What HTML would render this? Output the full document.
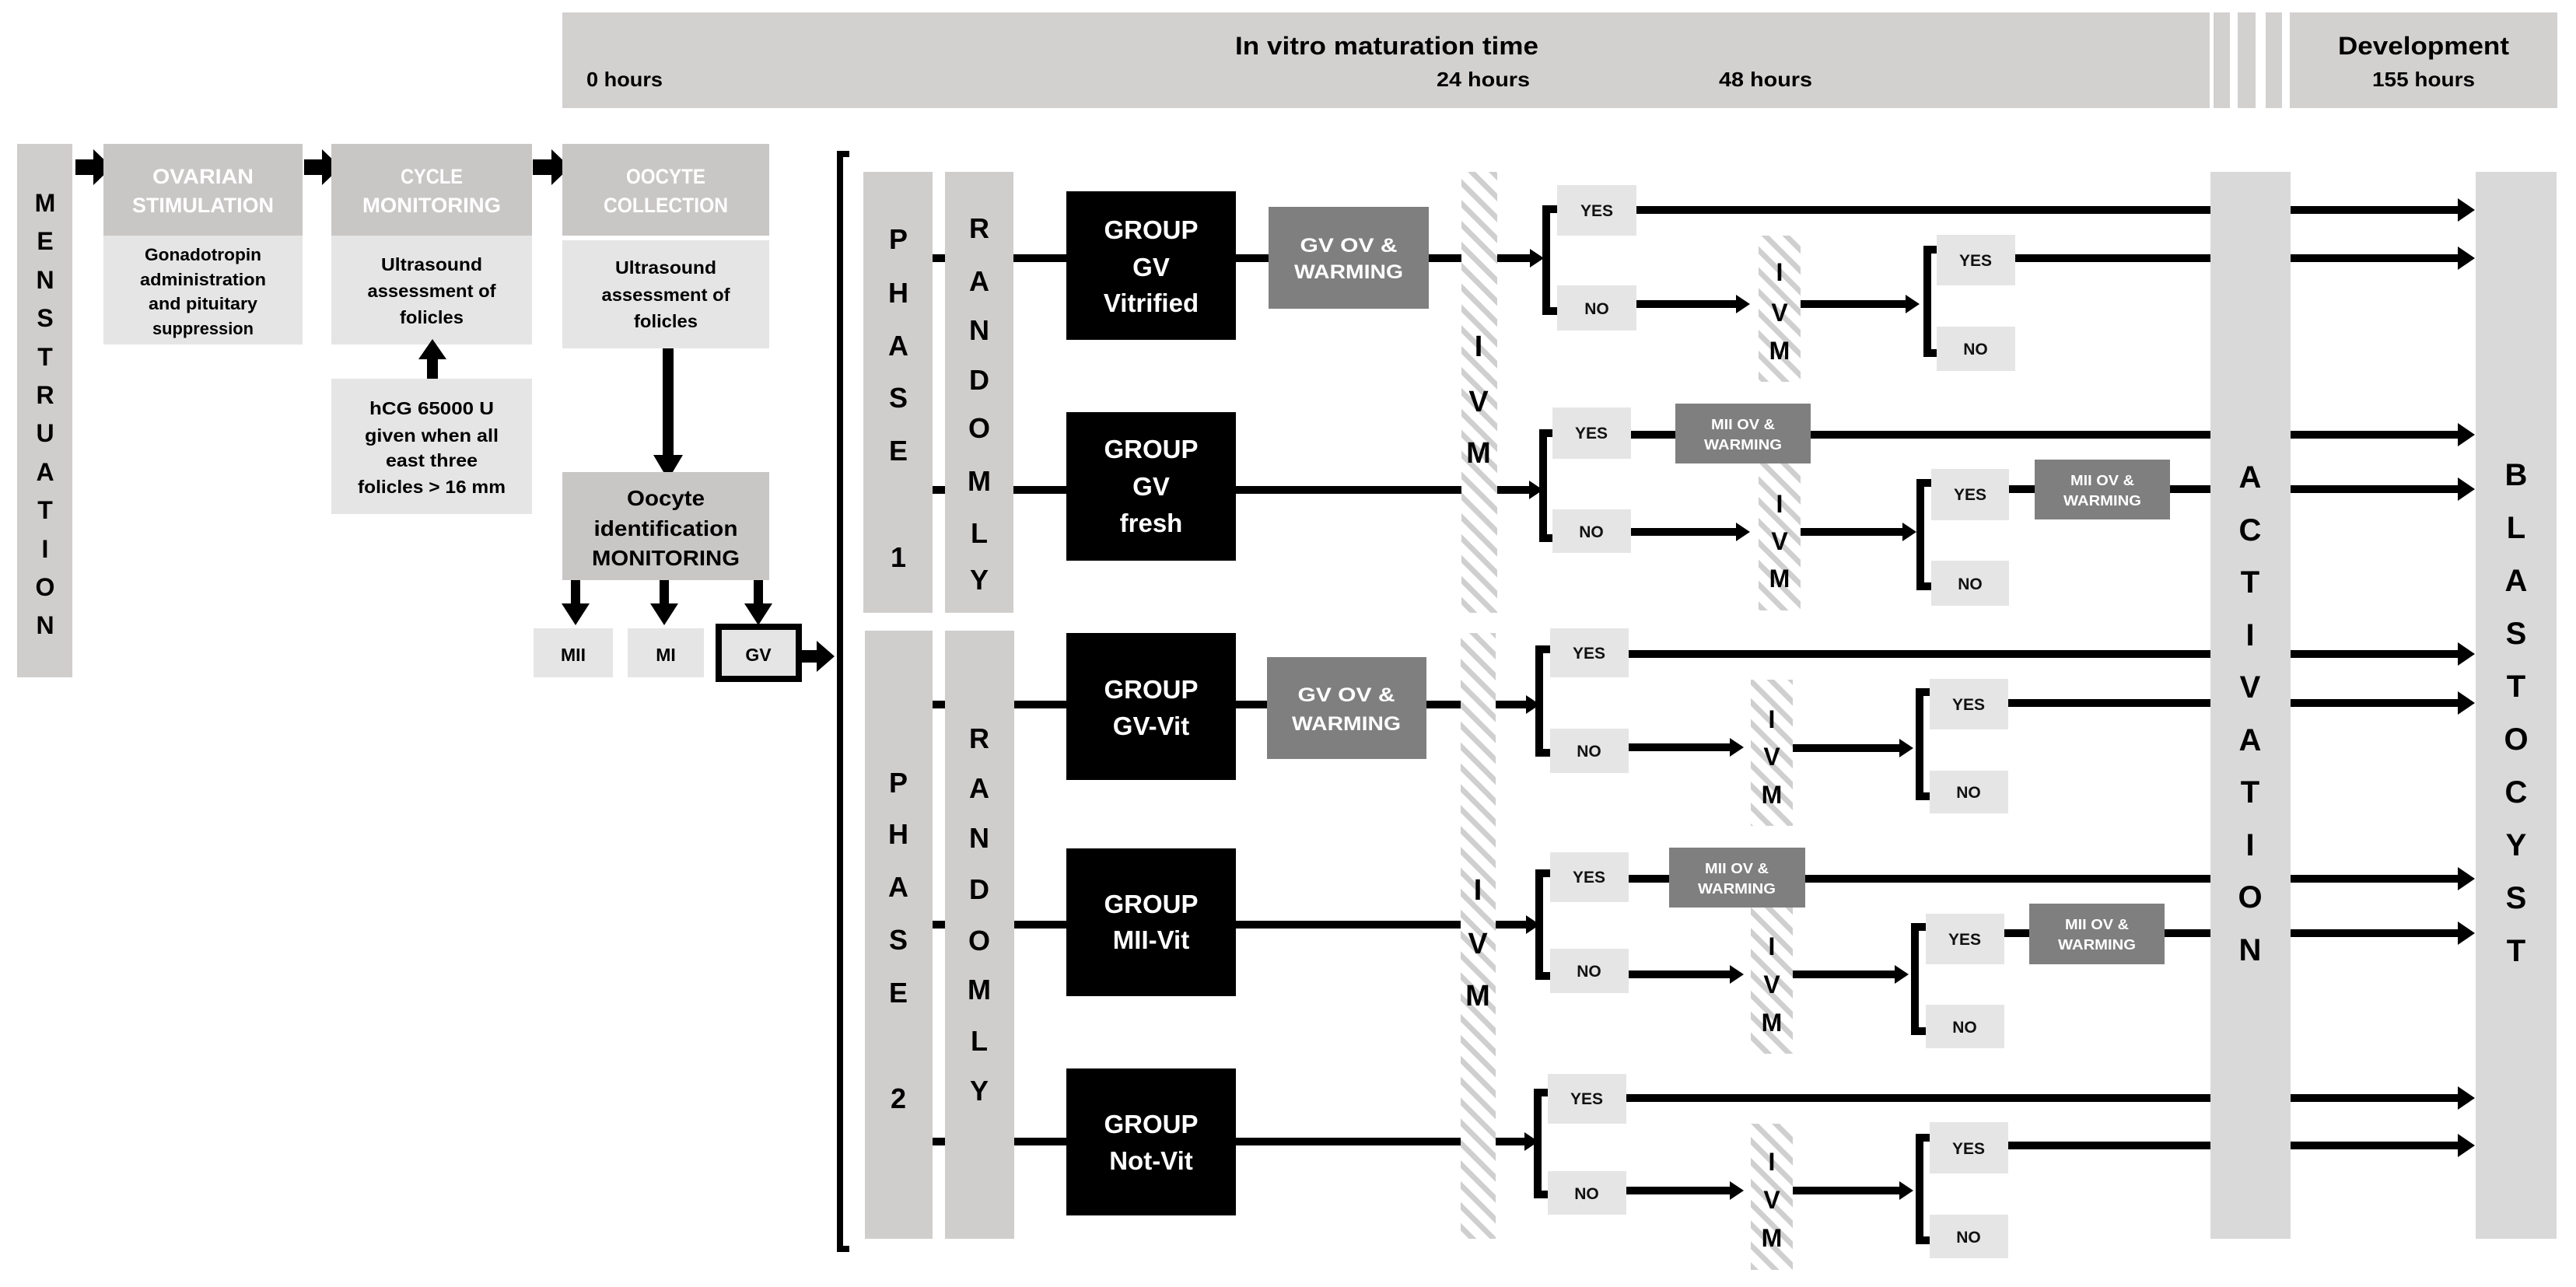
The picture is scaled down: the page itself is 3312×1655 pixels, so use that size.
<!DOCTYPE html>
<html><head><meta charset="utf-8"><style>
html,body{margin:0;padding:0;background:#fff;}
svg{display:block;}
text{font-family:"Liberation Sans",sans-serif;font-weight:bold;}
</style></head><body>
<svg width="3312" height="1655" viewBox="0 0 3312 1655" xmlns="http://www.w3.org/2000/svg">
<defs>
<pattern id="hatch" patternUnits="userSpaceOnUse" width="19" height="19" patternTransform="rotate(-45)">
<rect width="19" height="19" fill="#fff"/><rect width="7" height="19" fill="#cfcfcf"/>
</pattern>
<marker id="ah" markerUnits="strokeWidth" markerWidth="2.2" markerHeight="3" refX="1" refY="1.5" orient="auto">
<path d="M0,0 L2.2,1.5 L0,3 z" fill="#000"/>
</marker>
<marker id="as" markerUnits="strokeWidth" markerWidth="1.8" markerHeight="2.4" refX="0.8" refY="1.2" orient="auto">
<path d="M0,0 L1.8,1.2 L0,2.4 z" fill="#000"/>
</marker>
</defs>

<!-- header -->
<rect x="723" y="16" width="2118" height="123" fill="#d3d0d0"/>
<rect x="2846" y="16" width="21" height="123" fill="#d3d0d0"/>
<rect x="2877" y="16" width="23" height="123" fill="#d3d0d0"/>
<rect x="2913" y="16" width="21" height="123" fill="#d3d0d0"/>
<rect x="2944" y="16" width="344" height="123" fill="#d3d0d0"/>
<text x="1783" y="70" font-size="32" text-anchor="middle" textLength="390" lengthAdjust="spacingAndGlyphs">In vitro maturation time</text>
<text x="754" y="111" font-size="26" textLength="98" lengthAdjust="spacingAndGlyphs">0 hours</text>
<text x="1907" y="111" font-size="26" text-anchor="middle" textLength="120" lengthAdjust="spacingAndGlyphs">24 hours</text>
<text x="2270" y="111" font-size="26" text-anchor="middle" textLength="120" lengthAdjust="spacingAndGlyphs">48 hours</text>
<text x="3116" y="70" font-size="32" text-anchor="middle" textLength="220" lengthAdjust="spacingAndGlyphs">Development</text>
<text x="3116" y="111" font-size="26" text-anchor="middle" textLength="132" lengthAdjust="spacingAndGlyphs">155 hours</text>

<!-- Menstruation -->
<rect x="22" y="185" width="71" height="686" fill="#d0cdcd"/>
<g font-size="32" text-anchor="middle">
<text x="58" y="272">M</text><text x="58" y="321">E</text><text x="58" y="371">N</text><text x="58" y="420">S</text><text x="58" y="470">T</text><text x="58" y="519">R</text><text x="58" y="568">U</text><text x="58" y="618">A</text><text x="58" y="667">T</text><text x="58" y="717">I</text><text x="58" y="766">O</text><text x="58" y="815">N</text>
</g>

<!-- block arrows -->
<g fill="#000">
<polygon points="97,205 120,205 120,192 144,215 120,238 120,225 97,225"/>
<polygon points="391,205 414,205 414,192 438,215 414,238 414,225 391,225"/>
<polygon points="685,205 709,205 709,192 733,215 709,238 709,225 685,225"/>
</g>

<!-- Ovarian -->
<rect x="133" y="185" width="256" height="118" fill="#c9c6c6"/>
<rect x="133" y="303" width="256" height="140" fill="#e6e5e5"/>
<g font-size="27" fill="#fff" text-anchor="middle">
<text x="261" y="236" textLength="130" lengthAdjust="spacingAndGlyphs">OVARIAN</text>
<text x="261" y="273" textLength="182" lengthAdjust="spacingAndGlyphs">STIMULATION</text>
</g>
<g font-size="22" text-anchor="middle">
<text x="261" y="335" textLength="150" lengthAdjust="spacingAndGlyphs">Gonadotropin</text>
<text x="261" y="367" textLength="162" lengthAdjust="spacingAndGlyphs">administration</text>
<text x="261" y="398" textLength="140" lengthAdjust="spacingAndGlyphs">and pituitary</text>
<text x="261" y="430" textLength="130" lengthAdjust="spacingAndGlyphs">suppression</text>
</g>

<!-- Cycle -->
<rect x="426" y="185" width="258" height="118" fill="#c9c6c6"/>
<rect x="426" y="303" width="258" height="140" fill="#e6e5e5"/>
<g font-size="27" fill="#fff" text-anchor="middle">
<text x="555" y="236" textLength="80" lengthAdjust="spacingAndGlyphs">CYCLE</text>
<text x="555" y="273" textLength="178" lengthAdjust="spacingAndGlyphs">MONITORING</text>
</g>
<g font-size="23" text-anchor="middle">
<text x="555" y="348" textLength="130" lengthAdjust="spacingAndGlyphs">Ultrasound</text>
<text x="555" y="382" textLength="165" lengthAdjust="spacingAndGlyphs">assessment of</text>
<text x="555" y="416" textLength="82" lengthAdjust="spacingAndGlyphs">folicles</text>
</g>
<polygon points="549,488 549,462 538,462 556,436 574,462 563,462 563,488" fill="#000"/>
<rect x="426" y="487" width="258" height="174" fill="#e6e5e5"/>
<g font-size="23" text-anchor="middle">
<text x="555" y="533" textLength="160" lengthAdjust="spacingAndGlyphs">hCG 65000 U</text>
<text x="555" y="568" textLength="172" lengthAdjust="spacingAndGlyphs">given when all</text>
<text x="555" y="600" textLength="118" lengthAdjust="spacingAndGlyphs">east three</text>
<text x="555" y="634" textLength="190" lengthAdjust="spacingAndGlyphs">folicles &gt; 16 mm</text>
</g>

<!-- Oocyte collection -->
<rect x="723" y="185" width="266" height="118" fill="#c9c6c6"/>
<rect x="723" y="309" width="266" height="139" fill="#e6e5e5"/>
<g font-size="27" fill="#fff" text-anchor="middle">
<text x="856" y="236" textLength="102" lengthAdjust="spacingAndGlyphs">OOCYTE</text>
<text x="856" y="273" textLength="160" lengthAdjust="spacingAndGlyphs">COLLECTION</text>
</g>
<g font-size="23" text-anchor="middle">
<text x="856" y="352" textLength="130" lengthAdjust="spacingAndGlyphs">Ultrasound</text>
<text x="856" y="387" textLength="165" lengthAdjust="spacingAndGlyphs">assessment of</text>
<text x="856" y="421" textLength="82" lengthAdjust="spacingAndGlyphs">folicles</text>
</g>
<polygon points="852,448 866,448 866,585 878,585 859,617 840,585 852,585" fill="#000"/>
<rect x="723" y="607" width="266" height="139" fill="#c9c6c6"/>
<g font-size="28" text-anchor="middle">
<text x="856" y="650" textLength="100" lengthAdjust="spacingAndGlyphs">Oocyte</text>
<text x="856" y="689" textLength="185" lengthAdjust="spacingAndGlyphs">identification</text>
<text x="856" y="727" textLength="190" lengthAdjust="spacingAndGlyphs">MONITORING</text>
</g>
<g fill="#000">
<polygon points="734,746 746,746 746,776 758,776 740,804 722,776 734,776"/>
<polygon points="848,746 860,746 860,776 872,776 854,804 836,776 848,776"/>
<polygon points="969,746 981,746 981,776 993,776 975,804 957,776 969,776"/>
</g>
<rect x="686" y="808" width="102" height="63" fill="#e6e5e5"/>
<rect x="807" y="808" width="98" height="63" fill="#e6e5e5"/>
<rect x="924" y="806" width="103" height="67" fill="#e6e5e5" stroke="#000" stroke-width="8"/>
<g font-size="23" text-anchor="middle">
<text x="737" y="850">MII</text><text x="856" y="850">MI</text><text x="975" y="850">GV</text>
</g>
<polygon points="1031,836 1050,836 1050,824 1073,844 1050,864 1050,852 1031,852" fill="#000"/>

<!-- big bracket -->
<path d="M1092,198 L1080,198 L1080,1606 L1092,1606" fill="none" stroke="#000" stroke-width="8"/>

<!-- phase bars -->
<rect x="1110" y="221" width="89" height="567" fill="#d0cdcd"/>
<rect x="1215" y="221" width="88" height="567" fill="#d0cdcd"/>
<rect x="1112" y="811" width="87" height="782" fill="#d0cdcd"/>
<rect x="1215" y="811" width="89" height="782" fill="#d0cdcd"/>
<g font-size="36" text-anchor="middle">
<text x="1155" y="320">P</text><text x="1155" y="389">H</text><text x="1155" y="457">A</text><text x="1155" y="524">S</text><text x="1155" y="592">E</text><text x="1155" y="729">1</text>
<text x="1259" y="306">R</text><text x="1259" y="374">A</text><text x="1259" y="437">N</text><text x="1259" y="501">D</text><text x="1259" y="563">O</text><text x="1259" y="631">M</text><text x="1259" y="698">L</text><text x="1259" y="758">Y</text>
<text x="1155" y="1019">P</text><text x="1155" y="1085">H</text><text x="1155" y="1153">A</text><text x="1155" y="1221">S</text><text x="1155" y="1289">E</text><text x="1155" y="1425">2</text>
<text x="1259" y="962">R</text><text x="1259" y="1026">A</text><text x="1259" y="1090">N</text><text x="1259" y="1156">D</text><text x="1259" y="1222">O</text><text x="1259" y="1285">M</text><text x="1259" y="1351">L</text><text x="1259" y="1415">Y</text>
</g>

<!-- big IVM columns -->
<rect x="1879" y="221" width="46" height="567" fill="url(#hatch)"/>
<rect x="1878" y="814" width="45" height="779" fill="url(#hatch)"/>
<g font-size="38" text-anchor="middle">
<text x="1901" y="458">I</text><text x="1901" y="529">V</text><text x="1901" y="595">M</text>
<text x="1900" y="1157">I</text><text x="1900" y="1226">V</text><text x="1900" y="1293">M</text>
</g>

<!-- small IVM columns -->
<rect x="2261" y="303" width="54" height="188" fill="url(#hatch)"/>
<rect x="2261" y="596" width="54" height="189" fill="url(#hatch)"/>
<rect x="2251" y="874" width="54" height="188" fill="url(#hatch)"/>
<rect x="2251" y="1167" width="54" height="188" fill="url(#hatch)"/>
<rect x="2251" y="1445" width="54" height="188" fill="url(#hatch)"/>
<g font-size="32" text-anchor="middle">
<text x="2288" y="361">I</text><text x="2288" y="413">V</text><text x="2288" y="462">M</text>
<text x="2288" y="659">I</text><text x="2288" y="707">V</text><text x="2288" y="755">M</text>
<text x="2278" y="936">I</text><text x="2278" y="984">V</text><text x="2278" y="1033">M</text>
<text x="2278" y="1228">I</text><text x="2278" y="1277">V</text><text x="2278" y="1326">M</text>
<text x="2278" y="1505">I</text><text x="2278" y="1554">V</text><text x="2278" y="1603">M</text>
</g>

<!-- activation / blastocyst -->
<rect x="2842" y="221" width="103" height="1372" fill="#d9d9d9"/>
<rect x="3183" y="221" width="104" height="1372" fill="#d9d9d9"/>
<g font-size="40" text-anchor="middle">
<text x="2893" y="627">A</text><text x="2893" y="695">C</text><text x="2893" y="762">T</text><text x="2893" y="830">I</text><text x="2893" y="897">V</text><text x="2893" y="965">A</text><text x="2893" y="1032">T</text><text x="2893" y="1100">I</text><text x="2893" y="1167">O</text><text x="2893" y="1235">N</text>
<text x="3235" y="624">B</text><text x="3235" y="692">L</text><text x="3235" y="760">A</text><text x="3235" y="828">S</text><text x="3235" y="896">T</text><text x="3235" y="964">O</text><text x="3235" y="1032">C</text><text x="3235" y="1100">Y</text><text x="3235" y="1168">S</text><text x="3235" y="1236">T</text>
</g>

<!-- group boxes -->
<g fill="#000">
<rect x="1371" y="246" width="218" height="191"/>
<rect x="1371" y="530" width="218" height="191"/>
<rect x="1371" y="814" width="218" height="189"/>
<rect x="1371" y="1091" width="218" height="190"/>
<rect x="1371" y="1374" width="218" height="189"/>
</g>
<g font-size="33" fill="#fff" text-anchor="middle">
<text x="1480" y="307">GROUP</text><text x="1480" y="355">GV</text><text x="1480" y="401">Vitrified</text>
<text x="1480" y="589">GROUP</text><text x="1480" y="637">GV</text><text x="1480" y="684">fresh</text>
<text x="1480" y="898">GROUP</text><text x="1480" y="945">GV-Vit</text>
<text x="1480" y="1174">GROUP</text><text x="1480" y="1220">MII-Vit</text>
<text x="1480" y="1457">GROUP</text><text x="1480" y="1504">Not-Vit</text>
</g>

<!-- OV & warming boxes -->
<g fill="#7f7f7f">
<rect x="1631" y="266" width="206" height="131"/>
<rect x="1629" y="845" width="205" height="131"/>
<rect x="2154" y="519" width="174" height="77"/>
<rect x="2616" y="591" width="174" height="77"/>
<rect x="2146" y="1090" width="175" height="77"/>
<rect x="2609" y="1162" width="174" height="78"/>
</g>
<g font-size="25" fill="#fff" text-anchor="middle">
<text x="1734" y="324" textLength="125" lengthAdjust="spacingAndGlyphs">GV OV &amp;</text>
<text x="1734" y="358" textLength="140" lengthAdjust="spacingAndGlyphs">WARMING</text>
<text x="1731" y="902" textLength="125" lengthAdjust="spacingAndGlyphs">GV OV &amp;</text>
<text x="1731" y="939" textLength="140" lengthAdjust="spacingAndGlyphs">WARMING</text>
</g>
<g font-size="18" fill="#fff" text-anchor="middle">
<text x="2241" y="552" textLength="82" lengthAdjust="spacingAndGlyphs">MII OV &amp;</text>
<text x="2241" y="578" textLength="100" lengthAdjust="spacingAndGlyphs">WARMING</text>
<text x="2703" y="624" textLength="82" lengthAdjust="spacingAndGlyphs">MII OV &amp;</text>
<text x="2703" y="650" textLength="100" lengthAdjust="spacingAndGlyphs">WARMING</text>
<text x="2233" y="1123" textLength="82" lengthAdjust="spacingAndGlyphs">MII OV &amp;</text>
<text x="2233" y="1149" textLength="100" lengthAdjust="spacingAndGlyphs">WARMING</text>
<text x="2696" y="1195" textLength="82" lengthAdjust="spacingAndGlyphs">MII OV &amp;</text>
<text x="2696" y="1221" textLength="100" lengthAdjust="spacingAndGlyphs">WARMING</text>
</g>

<!-- YES/NO boxes -->
<g fill="#e6e5e5">
<rect x="2002" y="238" width="102" height="65"/><rect x="2002" y="367" width="102" height="58"/>
<rect x="2490" y="302" width="101" height="65"/><rect x="2490" y="420" width="101" height="57"/>
<rect x="1996" y="524" width="101" height="66"/><rect x="1996" y="655" width="101" height="56"/>
<rect x="2483" y="603" width="100" height="66"/><rect x="2483" y="721" width="100" height="58"/>
<rect x="1993" y="808" width="101" height="63"/><rect x="1993" y="937" width="101" height="57"/>
<rect x="2481" y="873" width="101" height="65"/><rect x="2481" y="991" width="101" height="55"/>
<rect x="1993" y="1096" width="101" height="64"/><rect x="1993" y="1220" width="101" height="57"/>
<rect x="2476" y="1175" width="101" height="65"/><rect x="2476" y="1292" width="101" height="56"/>
<rect x="1990" y="1381" width="101" height="64"/><rect x="1990" y="1506" width="101" height="56"/>
<rect x="2481" y="1443" width="101" height="66"/><rect x="2481" y="1562" width="101" height="56"/>
</g>
<g font-size="21" style="font-weight:normal" text-anchor="middle" fill="#111">
<text x="2053" y="278">YES</text><text x="2053" y="404">NO</text>
<text x="2540" y="342">YES</text><text x="2540" y="456">NO</text>
<text x="2046" y="564">YES</text><text x="2046" y="691">NO</text>
<text x="2533" y="643">YES</text><text x="2533" y="758">NO</text>
<text x="2043" y="847">YES</text><text x="2043" y="973">NO</text>
<text x="2531" y="913">YES</text><text x="2531" y="1026">NO</text>
<text x="2043" y="1135">YES</text><text x="2043" y="1256">NO</text>
<text x="2526" y="1215">YES</text><text x="2526" y="1328">NO</text>
<text x="2040" y="1420">YES</text><text x="2040" y="1542">NO</text>
<text x="2531" y="1484">YES</text><text x="2531" y="1598">NO</text>
</g>

<!-- connectors -->
<g stroke="#000" stroke-width="10" fill="none">
<path d="M1199,332H1215 M1303,332H1371 M1589,332H1631 M1837,332H1879"/>
<line x1="1925" y1="332" x2="1975" y2="332" marker-end="url(#as)"/>
<path d="M2002,269H1988V400H2002"/>
<line x1="2104" y1="270" x2="2842" y2="270"/>
<line x1="2945" y1="270" x2="3170" y2="270" marker-end="url(#ah)"/>
<line x1="2104" y1="391" x2="2240" y2="391" marker-end="url(#as)"/>
<line x1="2315" y1="391" x2="2458" y2="391" marker-end="url(#as)"/>
<path d="M2490,321H2478V454H2490"/>
<line x1="2591" y1="332" x2="2842" y2="332"/>
<line x1="2945" y1="332" x2="3170" y2="332" marker-end="url(#ah)"/>

<path d="M1199,630H1215 M1303,630H1371 M1589,630H1879"/>
<line x1="1925" y1="630" x2="1974" y2="630" marker-end="url(#as)"/>
<path d="M1996,557H1984V692H1996"/>
<path d="M2097,559H2154 M2328,559H2842"/>
<line x1="2945" y1="559" x2="3170" y2="559" marker-end="url(#ah)"/>
<line x1="2097" y1="684" x2="2240" y2="684" marker-end="url(#as)"/>
<line x1="2315" y1="684" x2="2454" y2="684" marker-end="url(#as)"/>
<path d="M2483,621H2469V754H2483"/>
<path d="M2583,629H2616 M2790,629H2842"/>
<line x1="2945" y1="629" x2="3170" y2="629" marker-end="url(#ah)"/>

<path d="M1199,906H1215 M1304,906H1371 M1589,906H1629 M1834,906H1878"/>
<line x1="1923" y1="906" x2="1970" y2="906" marker-end="url(#as)"/>
<path d="M1993,835H1979V968H1993"/>
<line x1="2094" y1="841" x2="2842" y2="841"/>
<line x1="2945" y1="841" x2="3170" y2="841" marker-end="url(#ah)"/>
<line x1="2094" y1="961" x2="2232" y2="961" marker-end="url(#as)"/>
<line x1="2305" y1="962" x2="2450" y2="962" marker-end="url(#as)"/>
<path d="M2481,890H2468V1024H2481"/>
<line x1="2582" y1="904" x2="2842" y2="904"/>
<line x1="2945" y1="904" x2="3170" y2="904" marker-end="url(#ah)"/>

<path d="M1199,1189H1215 M1304,1189H1371 M1589,1189H1878"/>
<line x1="1923" y1="1189" x2="1970" y2="1189" marker-end="url(#as)"/>
<path d="M1993,1123H1979V1255H1993"/>
<path d="M2094,1130H2146 M2321,1130H2842"/>
<line x1="2945" y1="1130" x2="3170" y2="1130" marker-end="url(#ah)"/>
<line x1="2094" y1="1253" x2="2232" y2="1253" marker-end="url(#as)"/>
<line x1="2305" y1="1253" x2="2444" y2="1253" marker-end="url(#as)"/>
<path d="M2476,1192H2462V1326H2476"/>
<path d="M2577,1200H2609 M2783,1200H2842"/>
<line x1="2945" y1="1200" x2="3170" y2="1200" marker-end="url(#ah)"/>

<path d="M1199,1468H1215 M1304,1468H1371 M1589,1468H1878"/>
<line x1="1923" y1="1468" x2="1968" y2="1468" marker-end="url(#as)"/>
<path d="M1990,1405H1977V1536H1990"/>
<line x1="2091" y1="1412" x2="2842" y2="1412"/>
<line x1="2945" y1="1412" x2="3170" y2="1412" marker-end="url(#ah)"/>
<line x1="2091" y1="1531" x2="2232" y2="1531" marker-end="url(#as)"/>
<line x1="2305" y1="1531" x2="2450" y2="1531" marker-end="url(#as)"/>
<path d="M2481,1463H2468V1595H2481"/>
<line x1="2582" y1="1473" x2="2842" y2="1473"/>
<line x1="2945" y1="1473" x2="3170" y2="1473" marker-end="url(#ah)"/>
</g>
</svg>
</body></html>
